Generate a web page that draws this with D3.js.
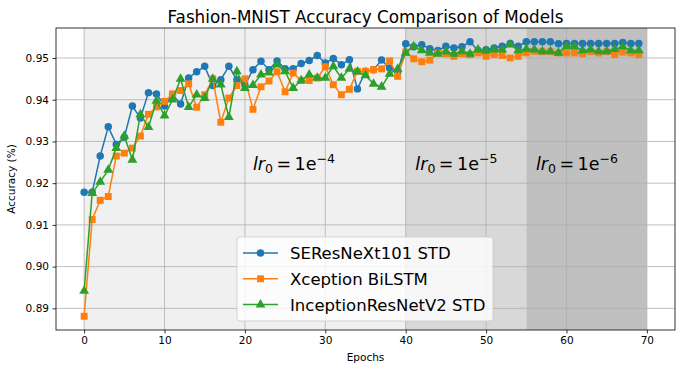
<!DOCTYPE html>
<html>
<head>
<meta charset="utf-8">
<script src="https://cdn.jsdelivr.net/npm/d3@7"></script>
<style>
  body { margin: 0; background: #fff; }
  svg text { font-family: "DejaVu Sans", sans-serif; fill: #000; }
</style>
</head>
<body>
<div id="chart"></div>
<script>
// epochs 0..69
var epochs = d3.range(0, 70);

var seresnext = [0.9178,0.9178,0.9265,0.9335,0.9293,0.9310,0.9385,0.9356,0.9417,0.9414,
    0.9385,0.9412,0.9390,0.9452,0.9467,0.9480,0.9434,0.9448,0.9480,0.9448,
    0.9435,0.9472,0.9492,0.9472,0.9493,0.9474,0.9474,0.9487,0.9494,0.9506,
    0.9488,0.9499,0.9484,0.9496,0.9426,0.9468,0.9472,0.9495,0.9476,0.9466,
    0.9534,0.9527,0.9532,0.9522,0.9518,0.9528,0.9524,0.9527,0.9539,0.9518,
    0.9520,0.9524,0.9528,0.9535,0.9528,0.9539,0.9539,0.9539,0.9539,0.9534,
    0.9535,0.9535,0.9535,0.9535,0.9535,0.9535,0.9535,0.9537,0.9535,0.9535];

var xception = [0.8881,0.9113,0.9159,0.9168,0.9265,0.9272,0.9284,0.9313,0.9365,0.9383,
    0.9396,0.9414,0.9422,0.9438,0.9382,0.9412,0.9450,0.9346,0.9404,0.9434,
    0.9450,0.9377,0.9431,0.9445,0.9467,0.9419,0.9464,0.9446,0.9446,0.9452,
    0.9479,0.9436,0.9412,0.9425,0.9468,0.9468,0.9472,0.9474,0.9493,0.9456,
    0.9514,0.9498,0.9491,0.9495,0.9512,0.9510,0.9504,0.9510,0.9508,0.9512,
    0.9504,0.9508,0.9506,0.9500,0.9504,0.9512,0.9516,0.9515,0.9515,0.9512,
    0.9512,0.9512,0.9510,0.9515,0.9512,0.9515,0.9508,0.9514,0.9512,0.9508];

var inception = [0.8942,0.9176,0.9203,0.9232,0.9284,0.9313,0.9256,0.9365,0.9334,0.9397,
    0.9362,0.9400,0.9450,0.9382,0.9412,0.9404,0.9450,0.9436,0.9358,0.9468,
    0.9428,0.9435,0.9460,0.9465,0.9484,0.9468,0.9428,0.9446,0.9460,0.9452,
    0.9452,0.9480,0.9452,0.9474,0.9467,0.9458,0.9438,0.9431,0.9462,0.9474,
    0.9512,0.9528,0.9518,0.9512,0.9510,0.9515,0.9510,0.9516,0.9510,0.9520,
    0.9517,0.9520,0.9520,0.9532,0.9518,0.9522,0.9520,0.9516,0.9516,0.9512,
    0.9528,0.9527,0.9518,0.9520,0.9516,0.9516,0.9521,0.9527,0.9518,0.9518];

var seriesNames = ["SEResNeXt101 STD", "Xception BiLSTM", "InceptionResNetV2 STD"];
var xTicks = [0, 10, 20, 30, 40, 50, 60, 70];
var yTicks = [0.89, 0.90, 0.91, 0.92, 0.93, 0.94, 0.95];

// learning rate phases (epoch ranges)
var phaseStart = [0, 40, 55];
var phaseEnd = [40, 55, 70];
var phaseExp = ["4", "5", "6"];

var colors = ["#1f77b4", "#ff7f0e", "#2ca02c"];
var shades = ["#f0f0f0", "#d8d8d8", "#c0c0c0"];
var allSeries = [seresnext, xception, inception];

var W = 683, H = 370;
var margin = {top: 28, right: 8, bottom: 40, left: 56};

var svg = d3.select("#chart").append("svg")
    .attr("width", W)
    .attr("height", H);

// matplotlib style 5% padding
var yMin = d3.min(allSeries, function(s){ return d3.min(s); });
var yMax = d3.max(allSeries, function(s){ return d3.max(s); });
var yPad = (yMax - yMin) * 0.05;

var x = d3.scaleLinear().domain([-3.5, 73.5]).range([margin.left, W - margin.right]);
var y = d3.scaleLinear().domain([yMin - yPad, yMax + yPad]).range([H - margin.bottom, margin.top]);

// shaded regions
svg.selectAll("rect.phase")
    .data(phaseStart)
    .enter().append("rect")
    .attr("class", "phase")
    .attr("x", function(d){ return x(d); })
    .attr("width", function(d, i){ return x(phaseEnd[i]) - x(d); })
    .attr("y", margin.top)
    .attr("height", H - margin.bottom - margin.top)
    .attr("fill", function(d, i){ return shades[i]; });

// grid
var grid = svg.append("g").attr("stroke", "#b0b0b0").attr("stroke-width", 0.8);
grid.selectAll("line.gx").data(xTicks).enter().append("line")
    .attr("x1", function(d){ return x(d); }).attr("x2", function(d){ return x(d); })
    .attr("y1", margin.top).attr("y2", H - margin.bottom);
grid.selectAll("line.gy").data(yTicks).enter().append("line")
    .attr("y1", function(d){ return y(d); }).attr("y2", function(d){ return y(d); })
    .attr("x1", margin.left).attr("x2", W - margin.right);

// axes
var xAxis = d3.axisBottom(x).tickValues(xTicks).tickSize(3.5).tickPadding(3.5).tickFormat(d3.format("d"));
var yAxis = d3.axisLeft(y).tickValues(yTicks).tickSize(3.5).tickPadding(3.5).tickFormat(d3.format(".2f"));

var gx = svg.append("g")
    .attr("transform", "translate(0," + (H - margin.bottom) + ")")
    .call(xAxis);
var gy = svg.append("g")
    .attr("transform", "translate(" + margin.left + ",0)")
    .call(yAxis);
[gx, gy].forEach(function(g){
    g.select(".domain").remove();
    g.selectAll("text").style("font-size", "10.5px").attr("fill", "#000");
    g.selectAll("line").attr("stroke", "#000").attr("stroke-width", 0.8);
});

// lines + markers
var line = d3.line()
    .x(function(d, i){ return x(epochs[i]); })
    .y(function(d){ return y(d); });

var symbolTypes = [d3.symbolCircle, d3.symbolSquare, d3.symbolTriangle];
var symbolSizes = [44, 48, 42];

allSeries.forEach(function(s, k){
    svg.append("path")
        .attr("d", line(s))
        .attr("fill", "none")
        .attr("stroke", colors[k])
        .attr("stroke-width", 1.5);
    svg.append("g").selectAll("path")
        .data(s)
        .enter().append("path")
        .attr("transform", function(d, i){ return "translate(" + x(epochs[i]) + "," + y(d) + ")"; })
        .attr("d", d3.symbol().type(symbolTypes[k]).size(symbolSizes[k]))
        .attr("fill", colors[k]);
});

// learning rate labels
phaseStart.forEach(function(p, i){
    var t = svg.append("text")
        .attr("x", x(p + (i == 0 ? 21 : 1.2)))
        .attr("y", y(0.9232))
        .style("font-size", "17.5px");
    t.append("tspan").style("font-style", "italic").text("lr");
    t.append("tspan").attr("dy", 3.5).style("font-size", "12.5px").text("0");
    t.append("tspan").attr("dy", -3.5).text("\u2009=\u20091e");
    t.append("tspan").attr("dy", -7).style("font-size", "12.5px").text("\u2212" + phaseExp[i]);
});

// spines
svg.append("rect")
    .attr("x", margin.left).attr("y", margin.top)
    .attr("width", W - margin.left - margin.right)
    .attr("height", H - margin.top - margin.bottom)
    .attr("fill", "none").attr("stroke", "#000").attr("stroke-width", 0.8);

// labels
svg.append("text")
    .attr("x", (margin.left + W - margin.right) / 2)
    .attr("y", 23)
    .attr("text-anchor", "middle")
    .style("font-size", "16.8px")
    .text("Fashion-MNIST Accuracy Comparison of Models");

svg.append("text")
    .attr("x", (margin.left + W - margin.right) / 2)
    .attr("y", 361)
    .attr("text-anchor", "middle")
    .style("font-size", "10.5px")
    .text("Epochs");

svg.append("text")
    .attr("transform", "translate(15," + ((margin.top + H - margin.bottom) / 2) + ") rotate(-90)")
    .attr("text-anchor", "middle")
    .style("font-size", "10.5px")
    .text("Accuracy (%)");

// legend
var lg = svg.append("g").attr("transform", "translate(237,237)");
lg.append("rect")
    .attr("width", 256).attr("height", 84)
    .attr("rx", 3)
    .attr("fill", "#fff").attr("fill-opacity", 0.8)
    .attr("stroke", "#ccc").attr("stroke-opacity", 0.8);
seriesNames.forEach(function(name, k){
    var row = lg.append("g").attr("transform", "translate(0," + (16 + k * 25.8) + ")");
    row.append("line")
        .attr("x1", 6).attr("x2", 41)
        .attr("stroke", colors[k]).attr("stroke-width", 1.5);
    row.append("path")
        .attr("transform", "translate(23.5,0)")
        .attr("d", d3.symbol().type(symbolTypes[k]).size(symbolSizes[k]))
        .attr("fill", colors[k]);
    row.append("text")
        .attr("x", 53).attr("y", 6)
        .style("font-size", "16.5px")
        .text(name);
});
</script>
</body>
</html>
